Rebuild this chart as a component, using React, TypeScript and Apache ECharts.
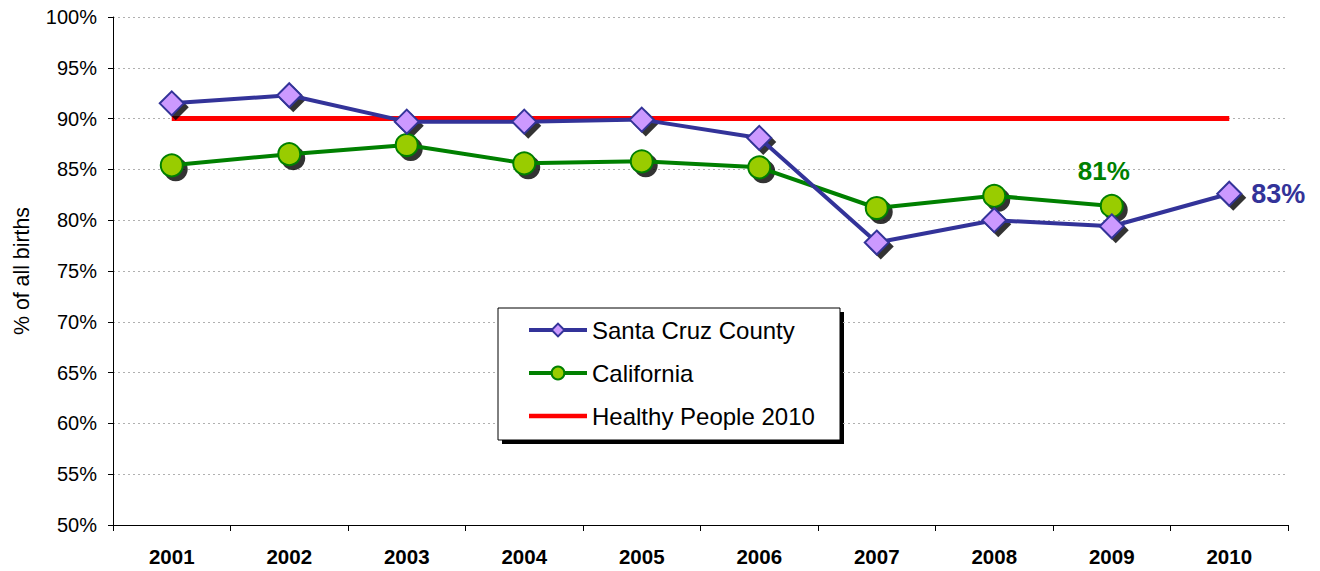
import React, { useEffect, useRef } from "react";
import * as echarts from "echarts";

const years = ["2001", "2002", "2003", "2004", "2005", "2006", "2007", "2008", "2009", "2010"];
const santaCruz = [91.5, 92.3, 89.7, 89.7, 89.9, 88.1, 77.8, 80.0, 79.4, 82.6];
const california = [85.4, 86.5, 87.4, 85.6, 85.8, 85.2, 81.2, 82.4, 81.4, null];
const healthyPeople = [90, 90, 90, 90, 90, 90, 90, 90, 90, 90];
const seriesNames = ["Santa Cruz County", "California", "Healthy People 2010"];
const yTicksMin = 50;
const yTicksMax = 100;
const yTickStep = 5;
const californiaLabel = { index: 8, text: "81%" };
const santaCruzLabel = { index: 9, text: "83%" };

const FONT = "Liberation Sans, Arial, sans-serif";

export default function App() {
  const ref = useRef<HTMLDivElement>(null);
  useEffect(() => {
    if (!ref.current) return;
    const chart = echarts.init(ref.current, null, { renderer: "svg" });
    const scData = santaCruz.map((v, i) =>
      i === santaCruzLabel.index
        ? {
            value: v,
            label: {
              show: true,
              position: "right",
              distance: 9,
              formatter: santaCruzLabel.text,
              color: "#333399",
              fontSize: 27,
              fontWeight: "bold",
              fontFamily: FONT,
            },
          }
        : v
    );
    const caData = california.map((v, i) =>
      i === californiaLabel.index
        ? {
            value: v,
            label: {
              show: true,
              position: "top",
              distance: 10,
              offset: [-8, 0],
              formatter: californiaLabel.text,
              color: "#008000",
              fontSize: 26,
              fontWeight: "bold",
              fontFamily: FONT,
            },
          }
        : v
    );
    chart.setOption({
      animation: false,
      grid: { left: 113, right: 32, top: 17, bottom: 46, containLabel: false, outerBoundsMode: "none" },
      xAxis: {
        type: "category",
        data: years,
        boundaryGap: true,
        axisLine: { lineStyle: { color: "#000", width: 1 } },
        axisTick: { show: true, length: 6, lineStyle: { color: "#000" } },
        axisLabel: {
          color: "#000",
          fontSize: 20.5,
          fontWeight: "bold",
          fontFamily: FONT,
          margin: 21,
        },
        splitLine: { show: false },
      },
      yAxis: {
        type: "value",
        min: yTicksMin,
        max: yTicksMax,
        interval: yTickStep,
        name: "% of all births",
        nameLocation: "middle",
        nameGap: 81,
        nameTextStyle: { color: "#000", fontSize: 21.3, fontFamily: FONT },
        axisLine: { show: true, lineStyle: { color: "#000", width: 1 } },
        axisTick: { show: true, length: 5, lineStyle: { color: "#000" } },
        axisLabel: {
          color: "#000",
          fontSize: 20,
          fontFamily: FONT,
          margin: 16,
          formatter: "{value}%",
        },
        splitLine: { show: true, lineStyle: { color: "#b0b0b0", type: [2, 3], width: 1 } },
      },
      legend: {
        orient: "vertical",
        left: 527,
        top: 318,
        padding: 0,
        itemWidth: 58,
        itemHeight: 16,
        itemGap: 19,
        lineStyle: { width: 4 },
        data: [
          { name: seriesNames[0] },
          { name: seriesNames[1] },
          { name: seriesNames[2], icon: "path://M0,0 L58,0 L58,4.5 L0,4.5 Z" },
        ],
        textStyle: { color: "#000", fontSize: 24, fontFamily: FONT, lineHeight: 24 },
      },
      graphic: [
        { type: "rect", z: 0, shape: { x: 502, y: 312, width: 342, height: 132 }, style: { fill: "#000" } },
        {
          type: "rect",
          z: 1,
          shape: { x: 498, y: 308, width: 342, height: 132 },
          style: { fill: "#fff", stroke: "#000", lineWidth: 1 },
        },
      ],
      series: [
        {
          name: seriesNames[2],
          type: "line",
          data: healthyPeople,
          showSymbol: false,
          symbol: "none",
          color: "#FF0000",
          lineStyle: { color: "#FF0000", width: 5 },
          z: 3,
        },
        {
          name: "shadowCA",
          type: "scatter",
          data: california,
          symbol: "circle",
          symbolSize: 24,
          symbolOffset: [4, 4],
          itemStyle: { color: "#000" },
          silent: true,
          z: 4,
        },
        {
          name: "shadowSC",
          type: "scatter",
          data: santaCruz,
          symbol: "diamond",
          symbolSize: 26,
          symbolOffset: [4, 4],
          itemStyle: { color: "#000" },
          silent: true,
          z: 4,
        },
        {
          name: seriesNames[1],
          type: "line",
          data: caData,
          symbol: "circle",
          symbolSize: 22,
          color: "#99CC00",
          itemStyle: { color: "#99CC00", borderColor: "#008000", borderWidth: 2 },
          lineStyle: { color: "#008000", width: 4 },
          z: 5,
        },
        {
          name: seriesNames[0],
          type: "line",
          data: scData,
          symbol: "diamond",
          symbolSize: 24,
          color: "#CC99FF",
          itemStyle: { color: "#CC99FF", borderColor: "#333399", borderWidth: 2 },
          lineStyle: { color: "#333399", width: 4 },
          z: 6,
        },
      ],
    });
    return () => chart.dispose();
  }, []);
  return (
    <div
      ref={ref}
      style={{ position: "absolute", left: 0, top: 0, width: 1320, height: 571 }}
    />
  );
}
